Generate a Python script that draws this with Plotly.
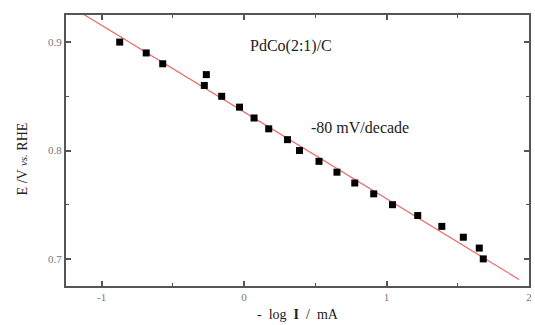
import plotly.graph_objects as go

# Tafel data: -log I (mA) vs. potential (V vs. RHE)
neg_log_i = [-0.873, -0.687, -0.571, -0.279, -0.265, -0.157, -0.032, 0.07, 0.173,
             0.305, 0.389, 0.526, 0.652, 0.777, 0.91, 1.042, 1.219, 1.388, 1.539,
             1.651, 1.679]
potential = [0.90, 0.89, 0.88, 0.86, 0.87, 0.85, 0.84, 0.83, 0.82,
             0.81, 0.80, 0.79, 0.78, 0.77, 0.76, 0.75, 0.74, 0.73, 0.72,
             0.71, 0.70]

# Linear Tafel fit: slope of -80 mV per decade
tafel_slope = -0.080
tafel_intercept = 0.8355
fit_x = [-1.13, 1.93]
fit_y = [tafel_intercept + tafel_slope * x for x in fit_x]

x_ticks = [-1, 0, 1, 2]
y_ticks = [0.7, 0.8, 0.9]

serif = "Liberation Serif, Times New Roman, serif"
text_color = "#222"

fig = go.Figure()
fig.add_trace(go.Scatter(
    x=fit_x, y=fit_y, mode="lines",
    line=dict(color="#e86a6a", width=1.2),
    showlegend=False, hoverinfo="skip"))
fig.add_trace(go.Scatter(
    x=neg_log_i, y=potential, mode="markers",
    marker=dict(symbol="square", size=7, color="black"),
    showlegend=False))

axis_common = dict(
    showline=True, linecolor="#555", linewidth=2, mirror="ticks",
    ticks="inside", ticklen=5, tickwidth=1.5, tickcolor="#555",
    showgrid=False, zeroline=False,
    tickfont=dict(family=serif, size=11, color="#777"),
    minor=dict(ticks="inside", ticklen=3, tickwidth=1.2, tickcolor="#555", showgrid=False),
)

fig.update_layout(
    width=535, height=325,
    margin=dict(l=66, r=3, t=15, b=39),
    paper_bgcolor="white", plot_bgcolor="white",
    xaxis=dict(range=[-1.25, 2.0], tickvals=x_ticks, ticktext=[str(v) for v in x_ticks],
               **axis_common),
    yaxis=dict(range=[0.675, 0.925], tickvals=y_ticks, ticktext=[f"{v:.1f}" for v in y_ticks],
               **axis_common),
)
fig.update_xaxes(minor=dict(tickvals=[-0.5, 0.5, 1.5]))
fig.update_yaxes(minor=dict(tickvals=[0.75, 0.85]))

# axis titles
fig.add_annotation(x=0.502, y=-0.104, xref="paper", yref="paper",
                   text="-  log  <b>I</b>  /  mA", showarrow=False,
                   xanchor="center", yanchor="middle",
                   font=dict(family=serif, size=14, color=text_color))
fig.add_annotation(x=-0.094, y=0.469, xref="paper", yref="paper", textangle=-90,
                   text="E /V <i><span style='font-size:11px'>vs.</span></i> RHE",
                   showarrow=False, xanchor="center", yanchor="middle",
                   font=dict(family=serif, size=14, color=text_color))

# in-plot labels
fig.add_annotation(x=0.326, y=0.896, xref="x", yref="y", text="PdCo(2:1)/C",
                   showarrow=False, font=dict(family=serif, size=16, color=text_color))
fig.add_annotation(x=0.814, y=0.821, xref="x", yref="y", text="-80 mV/decade",
                   showarrow=False, font=dict(family=serif, size=16, color=text_color))

fig.write_html("out.html")
